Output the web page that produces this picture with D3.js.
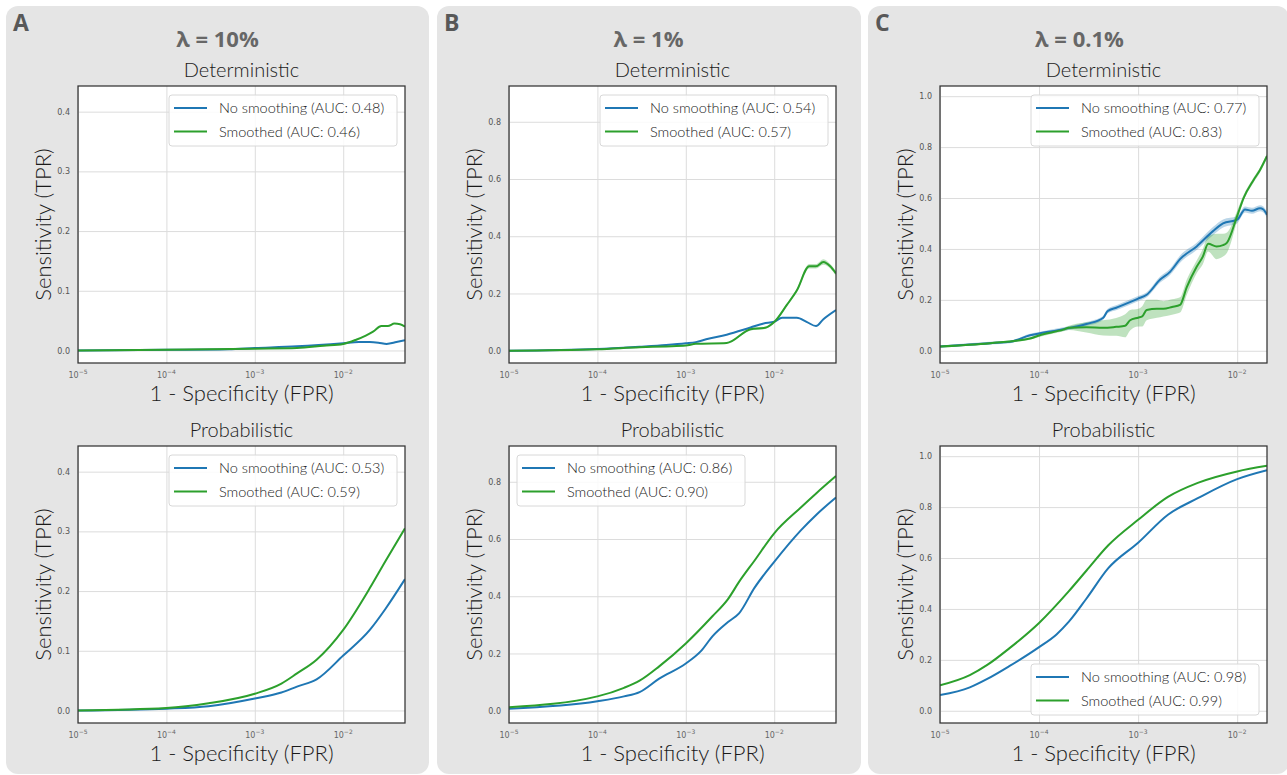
<!DOCTYPE html>
<html>
<head>
<meta charset="utf-8">
<script src="https://cdn.jsdelivr.net/npm/d3@7"></script>
<style>
  body { margin: 0; background: #fff; }
  svg text { font-family: Lato, "Open Sans", sans-serif; }
</style>
</head>
<body>
<svg id="chart" width="1287" height="775"></svg>
<script>
// ---- data ----
const panelLetters = ["A", "B", "C"]
const lambdaLabels = ["λ = 10%", "λ = 1%", "λ = 0.1%"]
const rowTitles = ["Deterministic", "Probabilistic"]
const fprTicks = [1e-5, 1e-4, 1e-3, 1e-2]
const fprMax = [0.05, 0.05, 0.02]
const tprDomains = [[-0.021, 0.443], [-0.043, 0.925], [-0.048, 1.04]]
const tprTicks = [[0, 0.1, 0.2, 0.3, 0.4], [0, 0.2, 0.4, 0.6, 0.8], [0, 0.2, 0.4, 0.6, 0.8, 1.0]]
const aucNoSmooth = [[0.48, 0.53], [0.54, 0.86], [0.77, 0.98]]
const aucSmooth = [[0.46, 0.59], [0.57, 0.90], [0.83, 0.99]]
const legendCorner = [["ur", "ur"], ["ur", "ul"], ["ur", "lr"]]

// [fpr, tpr] pairs
const detA_raw = [[1e-5, 0], [1e-4, 0.001], [5e-4, 0.002], [1e-3, 0.004], [3e-3, 0.007], [1e-2, 0.012],
  [0.015, 0.014], [0.02, 0.014], [0.025, 0.013], [0.031, 0.011], [0.04, 0.014], [0.05, 0.017]]
const detA_smooth = [[1e-5, 0], [1e-4, 0.001], [1e-3, 0.003], [3e-3, 0.004], [6e-3, 0.008], [1e-2, 0.011],
  [0.014, 0.018], [0.018, 0.025], [0.022, 0.032], [0.027, 0.041], [0.032, 0.041], [0.038, 0.045],
  [0.044, 0.044], [0.05, 0.04]]
const probA_raw = [[1e-5, 0], [1e-4, 0.003], [3e-4, 0.007], [1e-3, 0.02], [2e-3, 0.03], [3e-3, 0.04],
  [5e-3, 0.052], [1e-2, 0.092], [2e-2, 0.135], [3e-2, 0.17], [5e-2, 0.22]]
const probA_smooth = [[1e-5, 0], [1e-4, 0.004], [3e-4, 0.012], [1e-3, 0.028], [2e-3, 0.045], [3e-3, 0.062],
  [5e-3, 0.085], [1e-2, 0.135], [2e-2, 0.205], [3e-2, 0.25], [5e-2, 0.305]]

const detB_raw = [[1e-5, 0], [1e-4, 0.006], [3e-4, 0.014], [6e-4, 0.02], [1e-3, 0.026], [1.3e-3, 0.03],
  [1.7e-3, 0.04], [2.9e-3, 0.056], [5.4e-3, 0.081], [7.6e-3, 0.095], [1e-2, 0.101], [0.0123, 0.115],
  [0.018, 0.115], [0.0235, 0.1], [0.0297, 0.086], [0.036, 0.11], [0.05, 0.142]]
const detB_smooth = [[1e-5, 0], [1e-4, 0.005], [3e-4, 0.012], [6e-4, 0.015], [1e-3, 0.018], [1.3e-3, 0.024],
  [2.9e-3, 0.027], [5.4e-3, 0.075], [7.9e-3, 0.08], [1e-2, 0.1], [0.0139, 0.16], [0.018, 0.21],
  [0.0249, 0.295], [0.0297, 0.295], [0.036, 0.31], [0.043, 0.295], [0.05, 0.27]]
const detB_smoothBand = [0, 0, 0, 0, 0, 0, 0.002, 0.004, 0.004, 0.004, 0.005, 0.006, 0.008, 0.008, 0.01, 0.008, 0.008]
const probB_raw = [[1e-5, 0.007], [1e-4, 0.033], [2e-4, 0.05], [3e-4, 0.065], [5e-4, 0.112], [1e-3, 0.165],
  [1.5e-3, 0.21], [2e-3, 0.26], [3e-3, 0.31], [4e-3, 0.34], [6e-3, 0.43], [1e-2, 0.52], [2e-2, 0.63],
  [3e-2, 0.685], [5e-2, 0.745]]
const probB_smooth = [[1e-5, 0.012], [1e-4, 0.05], [2e-4, 0.08], [3e-4, 0.105], [5e-4, 0.155], [1e-3, 0.235],
  [2e-3, 0.33], [3e-3, 0.39], [4e-3, 0.45], [6e-3, 0.525], [1e-2, 0.62], [2e-2, 0.71], [3e-2, 0.76],
  [5e-2, 0.82]]

const detC_raw = [[1e-5, 0.017], [3.2e-5, 0.03], [5.1e-5, 0.035], [8.1e-5, 0.061], [1e-4, 0.068],
  [1.76e-4, 0.085], [3e-4, 0.105], [4.45e-4, 0.13], [4.9e-4, 0.155], [6.1e-4, 0.17], [1e-3, 0.205],
  [1.22e-3, 0.22], [1.67e-3, 0.28], [2.1e-3, 0.31], [2.65e-3, 0.36], [3.9e-3, 0.41], [5.7e-3, 0.47],
  [7.2e-3, 0.5], [1e-2, 0.515], [0.012, 0.555], [0.0141, 0.55], [0.017, 0.56], [0.0184, 0.555], [0.02, 0.534]]
const detC_rawBand = [0.004, 0.005, 0.005, 0.006, 0.006, 0.007, 0.008, 0.008, 0.009, 0.01, 0.01, 0.01,
  0.012, 0.012, 0.014, 0.014, 0.016, 0.016, 0.014, 0.012, 0.012, 0.012, 0.012, 0.012]
const detC_smooth = [[1e-5, 0.017], [3.2e-5, 0.03], [8.1e-5, 0.048], [1e-4, 0.06], [1.76e-4, 0.083],
  [2e-4, 0.09], [3e-4, 0.092], [4.45e-4, 0.09], [6e-4, 0.094], [7.4e-4, 0.098], [8.3e-4, 0.12],
  [1e-3, 0.13], [1.1e-3, 0.135], [1.22e-3, 0.16], [1.55e-3, 0.165], [1.8e-3, 0.165], [2.2e-3, 0.172],
  [2.65e-3, 0.18], [3.1e-3, 0.25], [3.9e-3, 0.33], [4.5e-3, 0.37], [5.1e-3, 0.42], [6.2e-3, 0.41],
  [7.2e-3, 0.415], [7.9e-3, 0.425], [1e-2, 0.53], [0.0116, 0.6], [0.0146, 0.67], [0.017, 0.71], [0.02, 0.765]]
const detC_smoothBand = [0.003, 0.004, 0.005, 0.006, 0.006, 0.008, 0.02, 0.03, 0.035, 0.045, 0.04, 0.035,
  0.04, 0.04, 0.035, 0.03, 0.03, 0.03, 0.03, 0.025, 0.03, 0.03, 0.05, 0.045, 0.04, 0.02, 0.012, 0.01, 0.01, 0.01]
const probC_raw = [[1e-5, 0.0615], [2e-5, 0.092], [3e-5, 0.125], [5e-5, 0.175], [1e-4, 0.25], [1.5e-4, 0.3],
  [2e-4, 0.35], [3e-4, 0.44], [5e-4, 0.56], [1e-3, 0.66], [2e-3, 0.77], [4e-3, 0.835], [1e-2, 0.91],
  [2e-2, 0.945]]
const probC_smooth = [[1e-5, 0.1], [2e-5, 0.14], [3e-5, 0.18], [5e-5, 0.245], [1e-4, 0.345], [2e-4, 0.47],
  [3e-4, 0.55], [5e-4, 0.65], [1e-3, 0.75], [2e-3, 0.84], [4e-3, 0.895], [1e-2, 0.94], [2e-2, 0.962]]

const curves = [
  [[detA_raw, null, detA_smooth, null], [probA_raw, null, probA_smooth, null]],
  [[detB_raw, null, detB_smooth, detB_smoothBand], [probB_raw, null, probB_smooth, null]],
  [[detC_raw, detC_rawBand, detC_smooth, detC_smoothBand], [probC_raw, null, probC_smooth, null]]
]

const blue = "#1f77b4"
const green = "#2ca02c"

// ---- layout ----
const svg = d3.select("#chart")
const colBg = [[6, 423], [437, 424], [868, 421]]
const plotX = [[78, 405], [509, 836], [940, 1267]]
const plotY = [[86, 363], [446, 723]]

colBg.forEach(function (b, i) {
  svg.append("rect").attr("x", b[0]).attr("y", 6).attr("width", b[1]).attr("height", 768)
    .attr("rx", 12).attr("fill", "#e5e5e5")
  svg.append("text").attr("y", 31).attr("x", b[0] + 7)
    .attr("font-size", 23).attr("font-weight", "bold").attr("fill", "#585858")
    .style("font-family", "'Open Sans', sans-serif")
    .text(panelLetters[i])
  svg.append("text").attr("x", (plotX[i][0] + plotX[i][1]) / 2 - 24).attr("y", 47)
    .attr("text-anchor", "middle").attr("font-size", 22).attr("font-weight", "bold").attr("fill", "#676767")
    .style("font-family", "'Open Sans', sans-serif")
    .text(lambdaLabels[i])
})

function drawPlot(col, row) {
  var x0 = plotX[col][0], x1 = plotX[col][1]
  var y0 = plotY[row][0], y1 = plotY[row][1]
  var x = d3.scaleLog().domain([1e-5, fprMax[col]]).range([x0, x1])
  var y = d3.scaleLinear().domain(tprDomains[col]).range([y1, y0])
  var g = svg.append("g")

  g.append("text").attr("x", (x0 + x1) / 2).attr("y", y0 - 9).attr("text-anchor", "middle")
    .attr("font-size", 20).attr("font-weight", 300).attr("fill", "#1a1a1a").text(rowTitles[row])

  g.append("rect").attr("x", x0).attr("y", y0).attr("width", x1 - x0).attr("height", y1 - y0).attr("fill", "#fff")

  // grid
  g.append("g").attr("transform", "translate(0," + y1 + ")")
    .call(d3.axisBottom(x).tickValues(fprTicks).tickSize(-(y1 - y0)).tickFormat(""))
    .call(function (a) { a.select(".domain").remove(); a.selectAll("line").attr("stroke", "#dcdcdc").attr("stroke-width", 1) })
  g.append("g").attr("transform", "translate(" + x0 + ",0)")
    .call(d3.axisLeft(y).tickValues(tprTicks[col]).tickSize(-(x1 - x0)).tickFormat(d3.format(".1f")).tickPadding(8))
    .call(function (a) {
      a.select(".domain").remove()
      a.selectAll("line").attr("stroke", "#dcdcdc").attr("stroke-width", 1)
      a.selectAll("text").attr("font-size", 8).attr("fill", "#555").style("font-family", "'DejaVu Sans', sans-serif")
    })

  // x tick labels as 10^n
  fprTicks.forEach(function (t) {
    var lab = g.append("text").attr("x", x(t)).attr("y", y1 + 15).attr("text-anchor", "middle")
      .attr("font-size", 8).attr("fill", "#666").style("font-family", "'DejaVu Sans', sans-serif")
    lab.append("tspan").text("10")
    lab.append("tspan").attr("dy", -4).attr("font-size", 6).text("−" + Math.round(-Math.log10(t)))
  })

  var clipId = "clip" + col + row
  g.append("clipPath").attr("id", clipId).append("rect")
    .attr("x", x0).attr("y", y0).attr("width", x1 - x0).attr("height", y1 - y0)
  var plot = g.append("g").attr("clip-path", "url(#" + clipId + ")")

  var set = curves[col][row]
  var series = [[set[0], set[1], blue], [set[2], set[3], green]]
  var line = d3.line().x(function (d) { return x(d[0]) }).y(function (d) { return y(d[1]) }).curve(d3.curveMonotoneX)
  series.forEach(function (s) {
    if (s[1]) {
      var band = d3.area().x(function (d) { return x(d[0]) })
        .y0(function (d, i) { return y(d[1] - s[1][i]) })
        .y1(function (d, i) { return y(d[1] + s[1][i]) })
        .curve(d3.curveMonotoneX)
      plot.append("path").datum(s[0]).attr("d", band).attr("fill", s[2]).attr("fill-opacity", 0.3)
    }
  })
  series.forEach(function (s) {
    plot.append("path").datum(s[0]).attr("d", line).attr("fill", "none")
      .attr("stroke", s[2]).attr("stroke-width", 2)
  })

  g.append("rect").attr("x", x0).attr("y", y0).attr("width", x1 - x0).attr("height", y1 - y0)
    .attr("fill", "none").attr("stroke", "#333").attr("stroke-width", 1.25)

  // axis titles
  g.append("text").attr("x", (x0 + x1) / 2).attr("y", y1 + 38).attr("text-anchor", "middle")
    .attr("font-size", 22).attr("font-weight", 300).attr("fill", "#1a1a1a").text("1 - Specificity (FPR)")
  g.append("text").attr("transform", "translate(" + (x0 - 27) + "," + (y0 + y1) / 2 + ") rotate(-90)")
    .attr("text-anchor", "middle").attr("font-size", 22).attr("font-weight", 300).attr("fill", "#1a1a1a")
    .text("Sensitivity (TPR)")

  // legend
  var lw = 228, lh = 51
  var corner = legendCorner[col][row]
  var lx = corner == "ul" ? x0 + 8 : x1 - 8 - lw
  var ly = corner == "lr" ? y1 - 8 - lh : y0 + 9
  var leg = g.append("g").attr("transform", "translate(" + lx + "," + ly + ")")
  leg.append("rect").attr("width", lw).attr("height", lh).attr("rx", 3)
    .attr("fill", "#fff").attr("fill-opacity", 0.85).attr("stroke", "#d8d8d8")
  var entries = [["No smoothing (AUC: " + aucNoSmooth[col][row].toFixed(2) + ")", blue],
    ["Smoothed (AUC: " + aucSmooth[col][row].toFixed(2) + ")", green]]
  entries.forEach(function (e, i) {
    var cy = 13 + i * 23.5
    leg.append("line").attr("x1", 5).attr("x2", 38).attr("y1", cy).attr("y2", cy)
      .attr("stroke", e[1]).attr("stroke-width", 2)
    leg.append("text").attr("x", 50).attr("y", cy + 5).attr("font-size", 14.5).attr("font-weight", 300)
      .attr("fill", "#1a1a1a").text(e[0])
  })
}

for (var c = 0; c < 3; c++) {
  for (var r = 0; r < 2; r++) drawPlot(c, r)
}
</script>
</body>
</html>
